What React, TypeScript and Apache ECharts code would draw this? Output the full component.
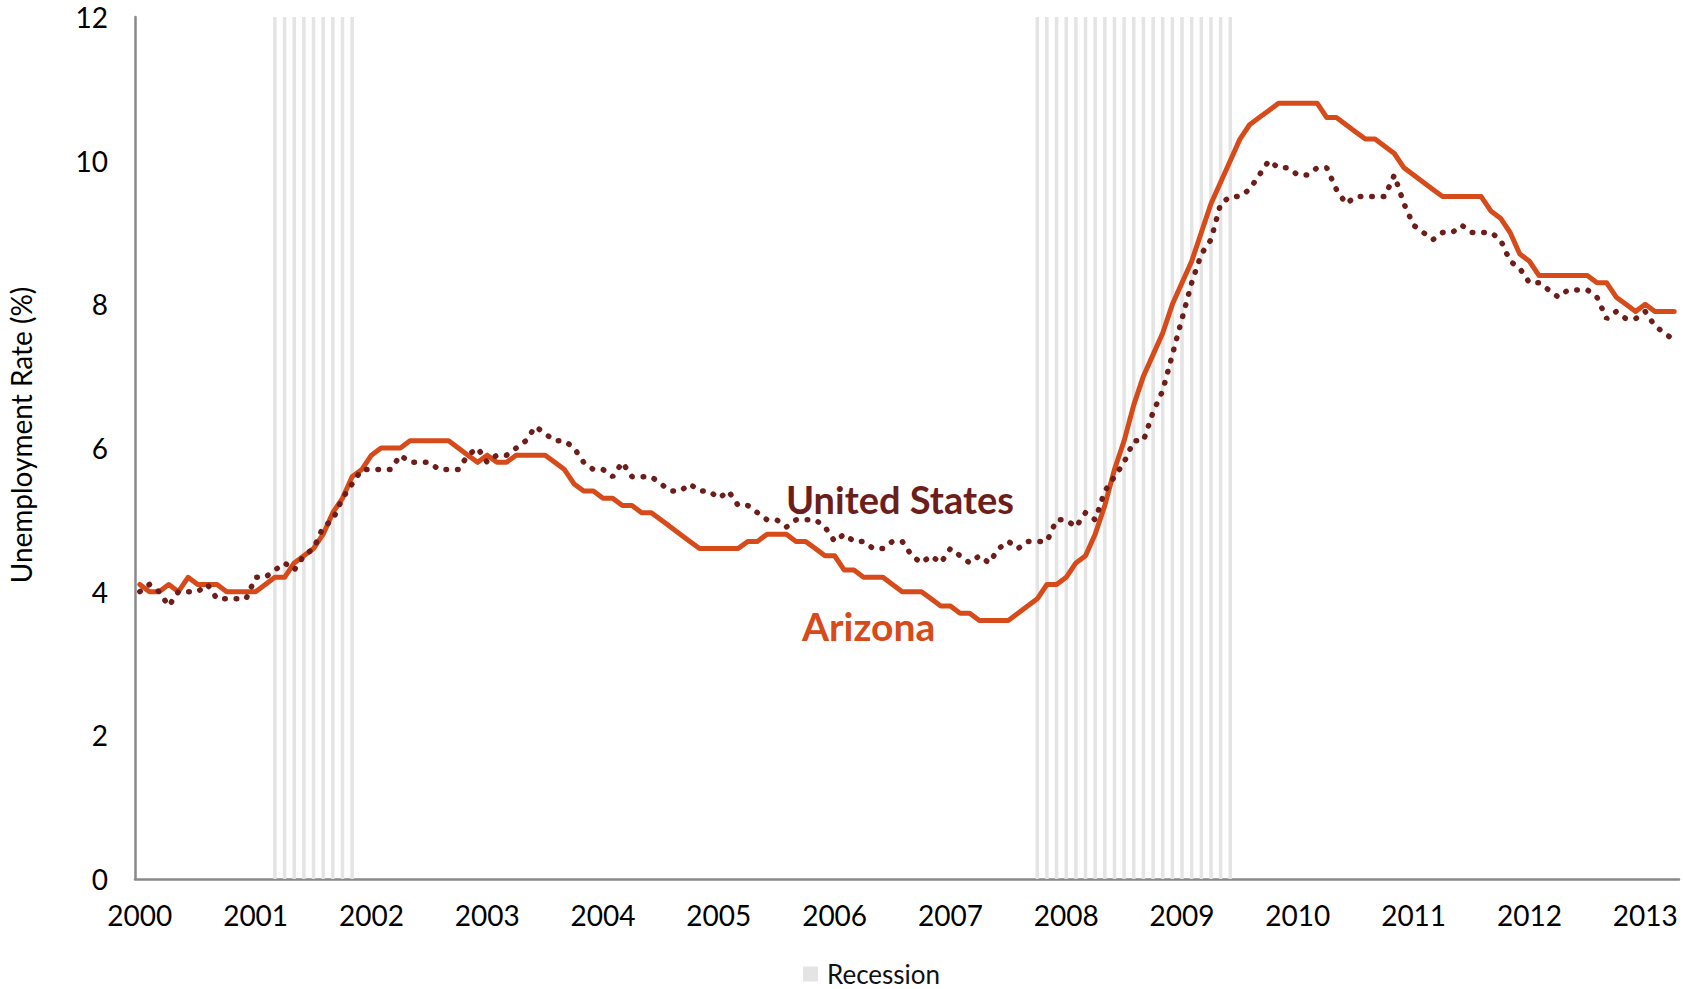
import React, { useEffect, useRef } from "react";
import * as echarts from "echarts";

const years = [2000, 2001, 2002, 2003, 2004, 2005, 2006, 2007, 2008, 2009, 2010, 2011, 2012, 2013];
const lastMonthOf2013 = 4;

const arizona = [
  4.1, 4.0, 4.0, 4.1, 4.0, 4.2, 4.1, 4.1, 4.1, 4.0, 4.0, 4.0,
  4.0, 4.1, 4.2, 4.2, 4.4, 4.5, 4.6, 4.8, 5.1, 5.3, 5.6, 5.7,
  5.9, 6.0, 6.0, 6.0, 6.1, 6.1, 6.1, 6.1, 6.1, 6.0, 5.9, 5.8,
  5.9, 5.8, 5.8, 5.9, 5.9, 5.9, 5.9, 5.8, 5.7, 5.5, 5.4, 5.4,
  5.3, 5.3, 5.2, 5.2, 5.1, 5.1, 5.0, 4.9, 4.8, 4.7, 4.6, 4.6,
  4.6, 4.6, 4.6, 4.7, 4.7, 4.8, 4.8, 4.8, 4.7, 4.7, 4.6, 4.5,
  4.5, 4.3, 4.3, 4.2, 4.2, 4.2, 4.1, 4.0, 4.0, 4.0, 3.9, 3.8,
  3.8, 3.7, 3.7, 3.6, 3.6, 3.6, 3.6, 3.7, 3.8, 3.9, 4.1, 4.1,
  4.2, 4.4, 4.5, 4.8, 5.2, 5.7, 6.1, 6.6, 7.0, 7.3, 7.6, 8.0,
  8.3, 8.6, 9.0, 9.4, 9.7, 10.0, 10.3, 10.5, 10.6, 10.7, 10.8, 10.8,
  10.8, 10.8, 10.8, 10.6, 10.6, 10.5, 10.4, 10.3, 10.3, 10.2, 10.1, 9.9,
  9.8, 9.7, 9.6, 9.5, 9.5, 9.5, 9.5, 9.5, 9.3, 9.2, 9.0, 8.7,
  8.6, 8.4, 8.4, 8.4, 8.4, 8.4, 8.4, 8.3, 8.3, 8.1, 8.0, 7.9,
  8.0, 7.9, 7.9, 7.9,
];

const unitedStates = [
  4.0, 4.1, 4.0, 3.8, 4.0, 4.0, 4.0, 4.1, 3.9, 3.9, 3.9, 3.9,
  4.2, 4.2, 4.3, 4.4, 4.3, 4.5, 4.6, 4.9, 5.0, 5.3, 5.5, 5.7,
  5.7, 5.7, 5.7, 5.9, 5.8, 5.8, 5.8, 5.7, 5.7, 5.7, 5.9, 6.0,
  5.8, 5.9, 5.9, 6.0, 6.1, 6.3, 6.2, 6.1, 6.1, 6.0, 5.8, 5.7,
  5.7, 5.6, 5.8, 5.6, 5.6, 5.6, 5.5, 5.4, 5.4, 5.5, 5.4, 5.4,
  5.3, 5.4, 5.2, 5.2, 5.1, 5.0, 5.0, 4.9, 5.0, 5.0, 5.0, 4.9,
  4.7, 4.8, 4.7, 4.7, 4.6, 4.6, 4.7, 4.7, 4.5, 4.4, 4.5, 4.4,
  4.6, 4.5, 4.4, 4.5, 4.4, 4.6, 4.7, 4.6, 4.7, 4.7, 4.7, 5.0,
  5.0, 4.9, 5.1, 5.0, 5.4, 5.6, 5.8, 6.1, 6.1, 6.5, 6.8, 7.3,
  7.8, 8.3, 8.7, 8.9, 9.4, 9.5, 9.5, 9.6, 9.8, 10.0, 9.9, 9.9,
  9.8, 9.8, 9.9, 9.9, 9.6, 9.4, 9.5, 9.5, 9.5, 9.5, 9.8, 9.4,
  9.1, 9.0, 8.9, 9.0, 9.0, 9.1, 9.0, 9.0, 9.0, 8.9, 8.6, 8.5,
  8.3, 8.3, 8.2, 8.1, 8.2, 8.2, 8.2, 8.1, 7.8, 7.9, 7.8, 7.8,
  7.9, 7.7, 7.6, 7.5,
];

const recessionPeriods = [
  ["2001-03", "2001-11"],
  ["2007-10", "2009-06"],
];
const recessionHeight = 12;

const yTicks = { min: 0, max: 12, interval: 2 };

const months: string[] = [];
years.forEach((y) => {
  const n = y === 2013 ? lastMonthOf2013 : 12;
  for (let m = 1; m <= n; m++) months.push(`${y}-${String(m).padStart(2, "0")}`);
});

const recessionData = months.map((m) =>
  recessionPeriods.some(([a, b]) => m >= a && m <= b) ? recessionHeight : "-"
);

const FONT = "Lato, 'Open Sans', sans-serif";

export default function App() {
  const ref = useRef<HTMLDivElement>(null);
  useEffect(() => {
    if (!ref.current) return;
    const chart = echarts.init(ref.current, undefined, { renderer: "svg" });
    chart.setOption({
      animation: false,
      backgroundColor: "#ffffff",
      textStyle: { fontFamily: FONT },
      grid: { left: 135, right: 4, top: 17, bottom: 110, containLabel: false },
      legend: {
        data: ["Recession"],
        left: 803,
        top: 961,
        padding: 0,
        icon: "rect",
        itemWidth: 15,
        itemHeight: 15,
        selectedMode: false,
        textStyle: {
          fontSize: 26,
          lineHeight: 26,
          color: "#111",
          fontFamily: FONT,
          padding: [0, 0, 0, 4],
        },
      },
      xAxis: {
        type: "category",
        data: months,
        boundaryGap: true,
        axisLine: { show: true, lineStyle: { color: "#898989", width: 2.5 } },
        axisTick: { show: false },
        splitLine: { show: false },
        axisLabel: {
          interval: (i: number) => i % 12 === 0,
          formatter: (v: string) => v.slice(0, 4),
          fontSize: 28,
          color: "#000",
          margin: 22,
          fontFamily: FONT,
        },
      },
      yAxis: {
        type: "value",
        min: yTicks.min,
        max: yTicks.max,
        interval: yTicks.interval,
        axisLine: { show: true, lineStyle: { color: "#898989", width: 2.5 } },
        axisTick: { show: false },
        splitLine: { show: false },
        axisLabel: { fontSize: 28, color: "#000", margin: 27, fontFamily: FONT },
      },
      graphic: [
        {
          type: "text",
          x: 21,
          y: 435,
          rotation: Math.PI / 2,
          style: {
            text: "Unemployment Rate (%)",
            font: `28px ${FONT}`,
            fill: "#000",
            textAlign: "center",
            textVerticalAlign: "middle",
          },
        },
        {
          type: "text",
          x: 786,
          y: 499,
          z: 10,
          style: {
            text: "United States",
            font: `bold 38px ${FONT}`,
            fill: "#6e1e1a",
            textAlign: "left",
            textVerticalAlign: "middle",
          },
        },
        {
          type: "text",
          x: 802,
          y: 626,
          z: 10,
          style: {
            text: "Arizona",
            font: `bold 39px ${FONT}`,
            fill: "#d64b19",
            textAlign: "left",
            textVerticalAlign: "middle",
          },
        },
      ],
      series: [
        {
          name: "Recession",
          type: "bar",
          data: recessionData,
          barWidth: 3.5,
          itemStyle: { color: "#e4e4e4" },
          silent: true,
          z: 1,
        },
        {
          name: "Arizona",
          type: "line",
          data: arizona,
          showSymbol: false,
          symbol: "none",
          lineStyle: { color: "#d64b19", width: 5, join: "round", cap: "round" },
          z: 3,
        },
        {
          name: "United States",
          type: "line",
          data: unitedStates,
          showSymbol: false,
          symbol: "none",
          lineStyle: { color: "#6e1e1a", width: 5.5, type: [0.5, 11], cap: "round" },
          z: 4,
        },
      ],
    });
    return () => chart.dispose();
  }, []);
  return (
    <div
      ref={ref}
      style={{ position: "fixed", left: 0, top: 0, width: 1683, height: 989, background: "#fff" }}
    />
  );
}
